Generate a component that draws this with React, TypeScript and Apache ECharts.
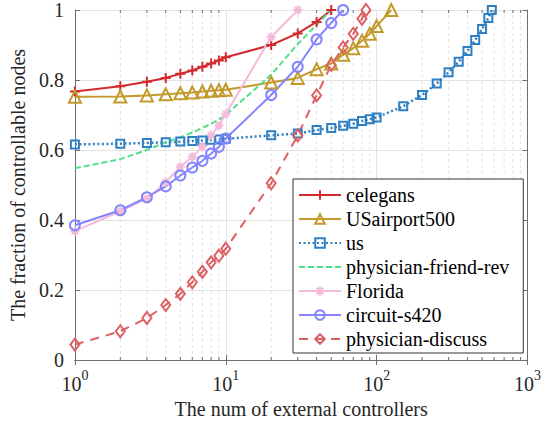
import React, { useEffect, useRef } from "react";
import * as echarts from "echarts";

// Number of external controllers (x) and fraction of controllable nodes (y) per network
const celegansX = [1, 2, 3, 4, 5, 6, 7, 8, 9, 10, 20, 30, 40, 50];
const celegansY = [0.767, 0.782, 0.795, 0.806, 0.818, 0.827, 0.838, 0.847, 0.856, 0.865, 0.9, 0.933, 0.966, 1.0];

const usairX = [1, 2, 3, 4, 5, 6, 7, 8, 9, 10, 20, 30, 40, 50, 60, 70, 80, 90, 100, 125];
const usairY = [0.752, 0.753, 0.756, 0.759, 0.762, 0.764, 0.767, 0.769, 0.771, 0.772, 0.793, 0.806, 0.831, 0.847, 0.872, 0.891, 0.912, 0.932, 0.954, 1.0];

const usX = [1, 2, 3, 4, 5, 6, 7, 8, 9, 10, 20, 30, 40, 50, 60, 70, 80, 90, 100, 150, 200, 250, 300, 350, 400, 450, 500, 550, 580];
const usY = [0.616, 0.618, 0.62, 0.622, 0.624, 0.626, 0.627, 0.629, 0.63, 0.632, 0.642, 0.647, 0.657, 0.663, 0.669, 0.675, 0.683, 0.688, 0.693, 0.725, 0.757, 0.79, 0.822, 0.852, 0.883, 0.914, 0.946, 0.977, 1.0];

const friendX = [1, 2, 3, 4, 5, 6, 7, 8, 9, 10, 20, 30, 40, 50];
const friendY = [0.548, 0.574, 0.6, 0.622, 0.636, 0.65, 0.663, 0.675, 0.687, 0.7, 0.815, 0.903, 0.958, 1.0];

const floridaX = [1, 2, 3, 4, 5, 6, 7, 8, 9, 10, 20, 30];
const floridaY = [0.368, 0.425, 0.461, 0.508, 0.552, 0.581, 0.609, 0.642, 0.67, 0.703, 0.923, 1.0];

const circuitX = [1, 2, 3, 4, 5, 6, 7, 8, 9, 10, 20, 30, 40, 50, 60];
const circuitY = [0.385, 0.428, 0.465, 0.496, 0.527, 0.55, 0.569, 0.59, 0.609, 0.633, 0.757, 0.838, 0.916, 0.963, 1.0];

const discussX = [1, 2, 3, 4, 5, 6, 7, 8, 9, 10, 20, 30, 40, 50, 60, 70, 80, 85];
const discussY = [0.044, 0.082, 0.12, 0.157, 0.189, 0.222, 0.252, 0.279, 0.298, 0.318, 0.505, 0.642, 0.756, 0.843, 0.893, 0.932, 0.975, 1.0];

// Minor decade positions for the log-scale grid
const minorX = [2, 3, 4, 5, 6, 7, 8, 9, 20, 30, 40, 50, 60, 70, 80, 90, 200, 300, 400, 500, 600, 700, 800, 900];

const legendNames = ["celegans", "USairport500", "us", "physician-friend-rev", "Florida", "circuit-s420", "physician-discuss"];

const FONT = "Liberation Serif, DejaVu Serif, serif";
const TEXT = "#262626";
const AXIS = "#6e6e6e";

const PLUS = "path://M5,0L5,10M0,5L10,5";
const STAR = "path://M5,0L5,10M0,5L10,5M1.6,1.6L8.4,8.4M1.6,8.4L8.4,1.6";

function pairs(xs: number[], ys: number[]) {
  return xs.map((x, i) => [x, ys[i]]);
}

function lineSeries(
  name: string,
  xs: number[],
  ys: number[],
  color: string,
  symbol: string,
  symbolSize: number | number[],
  lineType: any,
  hollow: boolean,
  width = 2
) {
  return {
    name,
    type: "line",
    data: pairs(xs, ys),
    symbol,
    symbolSize,
    showAllSymbol: true,
    clip: false,
    z: 3,
    lineStyle: { color, width, type: lineType, cap: "butt" },
    itemStyle: {
      color: hollow ? "rgba(255,255,255,0)" : color,
      borderColor: color,
      borderWidth: 2,
    },
    emphasis: { disabled: true },
  };
}

export default function App() {
  const ref = useRef<HTMLDivElement>(null);

  useEffect(() => {
    document.body.style.margin = "0";
    const chart = echarts.init(ref.current!, null, { renderer: "svg" });

    const tickLabel = { fontFamily: FONT, fontSize: 20, color: TEXT };

    chart.setOption({
      animation: false,
      backgroundColor: "#fff",
      textStyle: { fontFamily: FONT },
      grid: { left: 66, right: 14, top: 7, bottom: 71, containLabel: false },
      legend: {
        data: legendNames.map((n) =>
          n === "physician-friend-rev"
            ? { name: n, itemStyle: { opacity: 0 } }
            : { name: n }
        ),
        orient: "vertical",
        left: 293,
        top: 179,
        padding: [6, 14, 4, 5],
        itemGap: 4,
        itemWidth: 42,
        itemHeight: 12,
        backgroundColor: "#fff",
        borderColor: "#333",
        borderWidth: 1,
        selectedMode: false,
        textStyle: { fontFamily: FONT, fontSize: 20, color: "#000", lineHeight: 20 },
        z: 10,
      },
      xAxis: [
        {
          type: "log",
          logBase: 10,
          min: 1,
          max: 1000,
          name: "The num of external controllers",
          nameLocation: "middle",
          nameGap: 38,
          nameTextStyle: { fontFamily: FONT, fontSize: 20, color: TEXT },
          axisLine: { show: true, lineStyle: { color: AXIS, width: 1 } },
          axisTick: { show: true, inside: true, length: 5, lineStyle: { color: AXIS } },
          axisLabel: {
            margin: 8,
            formatter: (v: number) => `{b|10}{s|${Math.round(Math.log10(v))}}`,
            rich: {
              b: { ...tickLabel, verticalAlign: "bottom" },
              s: { ...tickLabel, fontSize: 14, verticalAlign: "bottom", padding: [0, 0, 12, 0] },
            },
          },
          splitLine: { show: true, lineStyle: { color: "#e3e3e3", width: 1 } },
        },
        {
          type: "log",
          logBase: 10,
          min: 1,
          max: 1000,
          position: "top",
          axisLine: { show: true, lineStyle: { color: AXIS, width: 1 } },
          axisTick: { show: true, inside: true, length: 5, lineStyle: { color: AXIS } },
          axisLabel: { show: false },
          splitLine: { show: false },
        },
      ],
      yAxis: [
        {
          type: "value",
          min: 0,
          max: 1,
          interval: 0.2,
          name: "The fraction of controllable nodes",
          nameLocation: "middle",
          nameGap: 37,
          nameTextStyle: { fontFamily: FONT, fontSize: 20, color: TEXT },
          axisLine: { show: true, lineStyle: { color: AXIS, width: 1 } },
          axisTick: { show: true, inside: true, length: 5, lineStyle: { color: AXIS } },
          axisLabel: { ...tickLabel, margin: 11 },
          splitLine: { show: true, lineStyle: { color: "#e3e3e3", width: 1 } },
        },
        {
          type: "value",
          min: 0,
          max: 1,
          interval: 0.2,
          position: "right",
          axisLine: { show: true, lineStyle: { color: AXIS, width: 1 } },
          axisTick: { show: true, inside: true, length: 5, lineStyle: { color: AXIS } },
          axisLabel: { show: false },
          splitLine: { show: false },
        },
      ],
      series: [
        {
          // dashed minor grid lines plus small inner ticks on the top and bottom edges
          name: "minor-grid",
          type: "custom",
          silent: true,
          z: 1,
          data: minorX.map((v) => [v, 0]),
          encode: { x: 0, y: 1 },
          renderItem: (_params: any, api: any) => {
            const v = api.value(0);
            const b = api.coord([v, 0]);
            const t = api.coord([v, 1]);
            return {
              type: "group",
              children: [
                {
                  type: "line",
                  shape: { x1: b[0], y1: b[1], x2: t[0], y2: t[1] },
                  style: { stroke: "#e2e2e2", lineWidth: 1, lineDash: [3, 3] },
                },
                {
                  type: "line",
                  shape: { x1: b[0], y1: b[1], x2: b[0], y2: b[1] - 3 },
                  style: { stroke: AXIS, lineWidth: 1 },
                },
                {
                  type: "line",
                  shape: { x1: t[0], y1: t[1], x2: t[0], y2: t[1] + 3 },
                  style: { stroke: AXIS, lineWidth: 1 },
                },
              ],
            };
          },
        },
        lineSeries("celegans", celegansX, celegansY, "#d42a2e", PLUS, 10, "solid", false),
        lineSeries("USairport500", usairX, usairY, "#c29a2c", "triangle", 12, "solid", true),
        lineSeries("us", usX, usY, "#2f7fc4", "rect", 8, [2, 2.5], true, 2.5),
        lineSeries("physician-friend-rev", friendX, friendY, "#52df8c", "none", 0, [6, 3], false),
        lineSeries("Florida", floridaX, floridaY, "#f5bad9", STAR, 9, "solid", false),
        lineSeries("circuit-s420", circuitX, circuitY, "#8585ff", "circle", 10, "solid", true),
        lineSeries("physician-discuss", discussX, discussY, "#dd5f62", "diamond", [9, 12], [9, 7], true),
      ],
    });

    return () => chart.dispose();
  }, []);

  return <div ref={ref} style={{ width: 544, height: 431 }} />;
}
